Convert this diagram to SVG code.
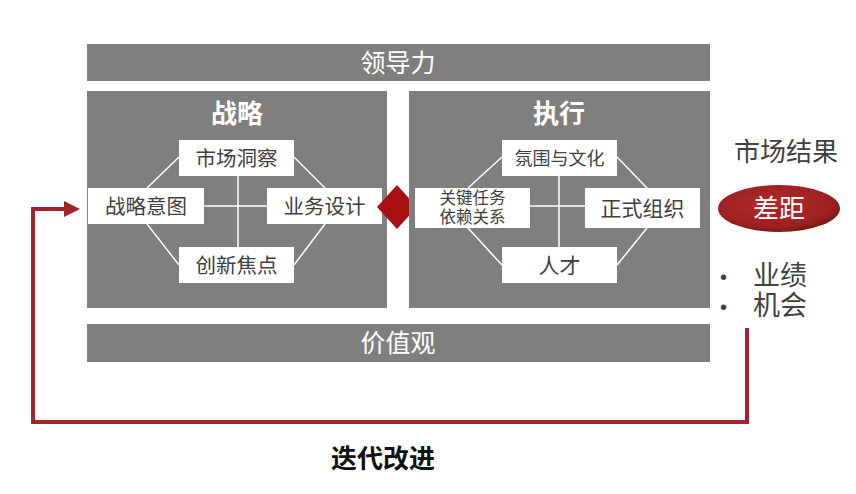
<svg xmlns="http://www.w3.org/2000/svg" width="856" height="494" viewBox="0 0 856 494">
<defs>
<style>
.panel{fill:#7f7f7f}
.box{fill:#ffffff}
.ln{stroke:#ffffff;stroke-width:1.5;fill:none}
.t{font-family:"Liberation Sans","Noto Sans CJK SC",sans-serif;text-anchor:middle}
.wt{fill:#ffffff}
.dk{fill:#404040}
.fb{stroke:#a3232b;stroke-width:4;fill:none}
</style>
<marker id="ah" markerWidth="4" markerHeight="4" refX="0" refY="2" orient="auto" markerUnits="strokeWidth">
<path d="M0,0 L4,2 L0,4 Z" fill="#a3232b"/>
</marker>
<radialGradient id="gap" cx="0.45" cy="0.4" r="0.65">
<stop offset="0" stop-color="#b22a2a"/>
<stop offset="0.75" stop-color="#9c2020"/>
<stop offset="1" stop-color="#6e1414"/>
</radialGradient>
</defs>
<rect width="856" height="494" fill="#ffffff"/>

<g id="connectors">
<polyline class="fb" points="747,328 747,422 33,422 33,209 64,209" marker-end="url(#ah)"/>
</g>

<g id="leadership">
<rect class="panel" x="87" y="44" width="623" height="37"/>
<text class="t wt" x="398" y="72" font-size="25">领导力</text>
</g>

<g id="values">
<rect class="panel" x="87" y="324" width="623" height="38"/>
<text class="t wt" x="398" y="352" font-size="25">价值观</text>
</g>

<g id="strategy">
<rect class="panel" x="87" y="91" width="300" height="217"/>
<text class="t wt" x="237" y="123" font-size="26" font-weight="bold">战略</text>
<line class="ln" x1="238" y1="176" x2="238" y2="247"/>
<line class="ln" x1="204" y1="206" x2="267" y2="206"/>
<line class="ln" x1="147" y1="188" x2="179" y2="157"/>
<line class="ln" x1="294" y1="157" x2="325" y2="188"/>
<line class="ln" x1="147" y1="224" x2="179" y2="265"/>
<line class="ln" x1="325" y1="224" x2="294" y2="265"/>
</g>
<g id="market-insight">
<rect class="box" x="179" y="140" width="115" height="36"/>
<text class="t dk" x="236.5" y="165.5" font-size="20.5">市场洞察</text>
</g>
<g id="strategic-intent">
<rect class="box" x="88" y="188" width="116" height="36"/>
<text class="t dk" x="146" y="213.5" font-size="20.5">战略意图</text>
</g>
<g id="business-design">
<rect class="box" x="267" y="188" width="115" height="36"/>
<text class="t dk" x="324.5" y="213.5" font-size="20.5">业务设计</text>
</g>
<g id="innovation-focus">
<rect class="box" x="179" y="247" width="115" height="36"/>
<text class="t dk" x="236.5" y="272.5" font-size="20.5">创新焦点</text>
</g>

<g id="link-diamond">
<polygon points="397,185 417,207 397,229 377,207" fill="#a80f12"/>
</g>

<g id="execution">
<rect class="panel" x="409" y="91" width="301" height="217"/>
<text class="t wt" x="559" y="123" font-size="26" font-weight="bold">执行</text>
<line class="ln" x1="559" y1="176" x2="559" y2="247"/>
<line class="ln" x1="530" y1="206" x2="585" y2="206"/>
<line class="ln" x1="468" y1="188" x2="502" y2="157"/>
<line class="ln" x1="617" y1="157" x2="647" y2="188"/>
<line class="ln" x1="468" y1="228" x2="502" y2="265"/>
<line class="ln" x1="647" y1="228" x2="617" y2="265"/>
</g>
<g id="climate-culture">
<rect class="box" x="502" y="140" width="115" height="36"/>
<text class="t dk" x="559.5" y="164.5" font-size="18">氛围与文化</text>
</g>
<g id="critical-tasks">
<rect class="box" x="415" y="188" width="115" height="40"/>
<text class="t dk" x="472.5" y="204" font-size="16.5">关键任务</text>
<text class="t dk" x="472.5" y="223" font-size="16.5">依赖关系</text>
</g>
<g id="formal-org">
<rect class="box" x="585" y="188" width="115" height="40"/>
<text class="t dk" x="642.5" y="215.5" font-size="21">正式组织</text>
</g>
<g id="talent">
<rect class="box" x="502" y="247" width="115" height="36"/>
<text class="t dk" x="559.5" y="273" font-size="21">人才</text>
</g>

<g id="market-results">
<text class="t" x="786" y="161" font-size="26" fill="#404040">市场结果</text>
</g>
<g id="gap">
<ellipse cx="779" cy="208.5" rx="61" ry="23.5" fill="url(#gap)"/>
<text class="t wt" x="779" y="218" font-size="26">差距</text>
</g>
<g id="outcomes">
<text x="720" y="284" font-family="Liberation Sans,sans-serif" font-size="20" fill="#404040">•</text>
<text x="753" y="285" font-family="Liberation Sans,'Noto Sans CJK SC',sans-serif" font-size="27" fill="#404040">业绩</text>
<text x="720" y="314" font-family="Liberation Sans,sans-serif" font-size="20" fill="#404040">•</text>
<text x="753" y="315" font-family="Liberation Sans,'Noto Sans CJK SC',sans-serif" font-size="27" fill="#404040">机会</text>
</g>
<g id="iterate-label">
<text class="t" x="383" y="468" font-size="26" font-weight="bold" fill="#111111">迭代改进</text>
</g>
</svg>
